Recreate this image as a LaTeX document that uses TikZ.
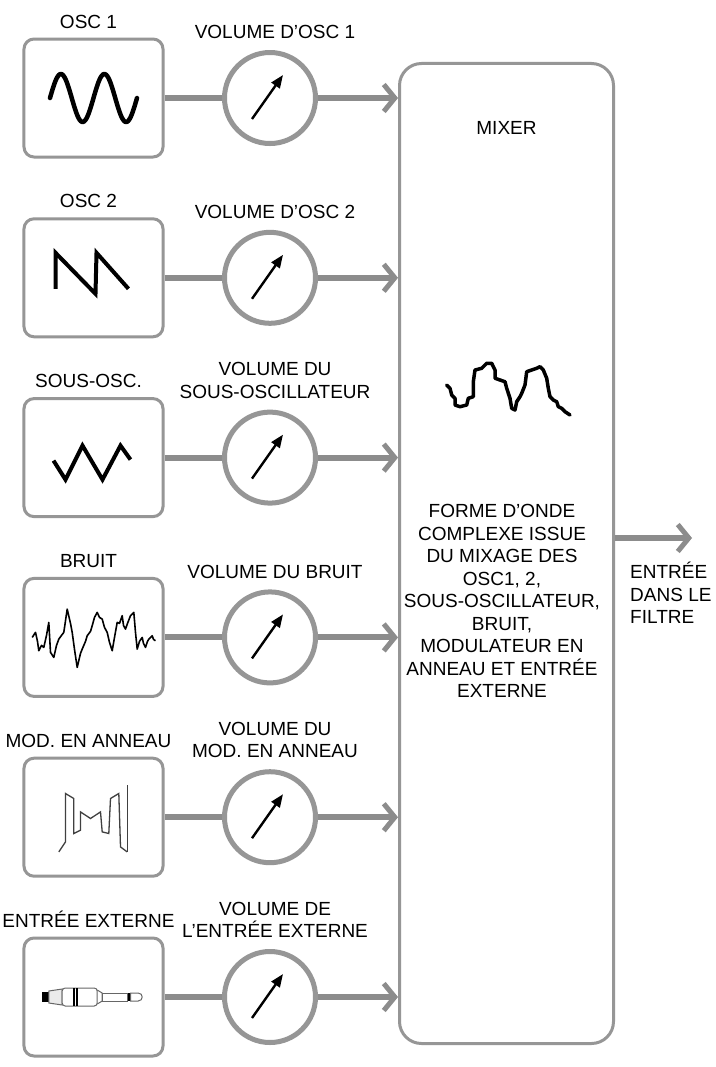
\documentclass[tikz,border=0pt]{standalone}
\usepackage{fontspec}
\setmainfont{Liberation Sans}
\usepackage{xcolor}
\usepackage{tikz}
\usetikzlibrary{matrix,positioning,arrows.meta}

\definecolor{framegray}{RGB}{150,150,150}
\definecolor{wiregray}{RGB}{140,140,140}

\tikzset{
  txt/.style={inner sep=0pt, align=center, font=\fontsize{19}{22.5}\selectfont},
  srcbox/.style={draw=framegray, line width=3pt, rounded corners=10pt, fill=white, minimum width=139pt, minimum height=118pt},
  dial/.style={circle, draw=framegray, line width=5pt, fill=white, minimum size=91pt},
  wire/.style={draw=wiregray, line width=6pt},
  feed/.style={wire, -{Straight Barb[length=11pt,width=27pt,line width=5pt]}},
  needle/.style={line width=2.4pt, -{Triangle[length=13pt,width=10pt]}},
  wave/.style={line width=4.5pt, line cap=round, line join=round},
  sharpwave/.style={line width=4pt, line join=miter},
  thinwave/.style={line width=1.6pt, line join=round},
  ring/.style={line width=1.3pt, draw=black!75},
  jack/.style={line width=1pt, draw=black!60},
}

\begin{document}
\begin{tikzpicture}[x=1pt, y=-1pt]
\useasboundingbox[fill=white] (0,0) rectangle (715,1067);
\node[draw=framegray, line width=3pt, rounded corners=22pt, minimum width=214pt, minimum height=980pt] (mix) at (506.5,553.5) {};
\matrix[matrix of nodes, nodes in empty cells, nodes={anchor=center}, column 1/.style={nodes=srcbox}, column 2/.style={nodes=dial}, row sep={179.8pt,between origins}, column sep={176.5pt,between origins}] (M) at (170.25,547.5) {
 & \\
 & \\
 & \\
 & \\
 & \\
 & \\
};
\foreach \i in {1,...,6}{
  \draw[wire] (M-\i-1) -- (M-\i-2);
  \draw[feed] (M-\i-2) -- (M-\i-2 -| mix.west);
  \draw[needle] ([shift={(-18,21)}]M-\i-2.center) -- ([shift={(13,-23)}]M-\i-2.center);
}
\foreach \t [count=\i] in {OSC 1, OSC 2, SOUS-OSC., BRUIT, MOD. EN ANNEAU, ENTRÉE EXTERNE}
  \node[txt, above=9pt of M-\i-1, xshift=-5pt] (src\i) {\t};
\foreach \t [count=\i] in {VOLUME D'OSC 1, VOLUME D'OSC 2, {VOLUME DU\\SOUS-OSCILLATEUR}, VOLUME DU BRUIT, {VOLUME DU\\MOD. EN ANNEAU}, {VOLUME DE\\L'ENTRÉE EXTERNE}}
  \node[txt, above=11pt of M-\i-2, xshift=5pt] (vol\i) {\t};

\begin{scope}[shift={(M-1-1.center)}]
  \draw[wave] plot[domain=0:2, samples=80, smooth] ({-43.5+43.5*\x}, {-24*sin(360*\x)});
\end{scope}
\begin{scope}[shift={(M-2-1.center)}]
  \draw[sharpwave] (-38,11) -- (-38,-25) -- (2,16) -- (3,-25) -- (35,11);
\end{scope}
\begin{scope}[shift={(M-3-1.center)}]
  \draw[sharpwave] (-40,3) -- (-28,22) -- (-11,-12) -- (9,22) -- (27,-12) -- (37,2);
\end{scope}
\begin{scope}[shift={(M-4-1.center)}]
  \draw[thinwave] (-61.3,0) -- (-58,-5) -- (-56,4) -- (-54.7,13.3) -- (-52,8) -- (-49.7,10) -- (-47,-2) -- (-44.7,-15) -- (-43,15) -- (-39.7,20) -- (-37,8) -- (-34.7,1.7) -- (-32,-2) -- (-29.7,-5) -- (-26.3,-28.3) -- (-23,-14) -- (-21.3,-5) -- (-19,12) -- (-16.3,30) -- (-13,16) -- (-11.3,11.7) -- (-8,4) -- (-6.3,-1.7) -- (-3,-6) -- (-1.3,-11.7) -- (1,-20) -- (3.7,-25) -- (6,-20) -- (8.7,-18.3) -- (11,-10) -- (13.7,-5) -- (16,5) -- (18.7,13.3) -- (21,0) -- (23.7,-15) -- (26,-14) -- (28.7,-21.7) -- (30,-12) -- (32,-8.3) -- (34,-14) -- (37,-21.7) -- (40.3,-25) -- (42,-5) -- (43.7,11.7) -- (46,4) -- (48.7,0) -- (50,6) -- (52,10) -- (54,4) -- (55.3,1.7) -- (58.7,-1.7) -- (60,2) -- (62,3.3);
\end{scope}
\begin{scope}[shift={(M-5-1.center)}]
  \draw[ring] (-34.7,34.7) -- (-28,24.7) -- (-28,-23.7) -- (-19.7,-18.7) -- (-19.7,16.3) -- (-13,13) -- (-13,-5.3) -- (-3,1.3) -- (7,-5.3) -- (8.7,14.7) -- (15.3,16.3) -- (17,-18.7) -- (25.3,-23.7) -- (27,29.7) -- (33.7,34.7);
  \draw[ring] (34.3,-32) -- (34.3,34.7);
\end{scope}
\begin{scope}[shift={(M-6-1.center)}]
  \fill[black] (-51.3,-5.3) rectangle (-44.7,5.3);
  \draw[jack, fill=black!8] (-44.7,-6) -- (-31.3,-8) -- (-31.3,8) -- (-44.7,6) -- cycle;
  \draw[jack, rounded corners=3pt, fill=white] (-31.3,-9) rectangle (3.7,9);
  \draw[line width=1.8pt] (-19.7,-9) -- (-19.7,9);
  \draw[line width=1.8pt] (-16.3,-9) -- (-16.3,9);
  \draw[jack] (3.7,-7) -- (8.7,-4) -- (8.7,4) -- (3.7,7);
  \draw[jack] (8.7,-4) rectangle (33.7,4);
  \draw[line width=1.4pt] (35.4,-4) -- (35.4,4);
  \draw[jack] (37,-4) -- (44.7,-4) .. controls (50,-4) and (50,4) .. (44.7,4) -- (37,4) -- cycle;
\end{scope}

\draw[line width=3.5pt, line join=round, line cap=round] (446.7,385) -- (450,388.3) -- (451.7,395) -- (455,398.3) -- (455,405) -- (460,406.7) -- (466.7,405) -- (468.3,398.3) -- (473.3,396.7) -- (473.3,381.7) -- (475,370) -- (481.7,368.3) -- (486.7,363.3) -- (491.7,363.3) -- (495,370) -- (495,378.3) -- (500,380) -- (505,381.7) -- (506.7,388.3) -- (510,398.3) -- (511.7,408.3) -- (515,410) -- (516.7,401.7) -- (520,396.7) -- (521.7,393.3) -- (525,385) -- (526.7,371.7) -- (531.7,370) -- (536.7,368.3) -- (540,366.7) -- (543.3,370) -- (546.7,378.3) -- (548.3,388.3) -- (550,396.7) -- (553.3,400) -- (556.7,401.7) -- (558.3,406.7) -- (561.7,408.3) -- (565,411.7) -- (570,415);

\node[txt, below=59pt of mix.north] (mixname) {MIXER};
\node[txt] (mixdesc) at (502,601) {FORME D'ONDE\\COMPLEXE ISSUE\\DU MIXAGE DES\\OSC1, 2,\\SOUS-OSCILLATEUR,\\BRUIT,\\MODULATEUR EN\\ANNEAU ET ENTRÉE\\EXTERNE};
\coordinate (out) at (692,538);
\draw[feed] (mix.east |- out) -- (out);
\node[txt, align=left, anchor=north west] (outlbl) at (630,562) {ENTRÉE\\DANS LE\\FILTRE};
\end{tikzpicture}
\end{document}
